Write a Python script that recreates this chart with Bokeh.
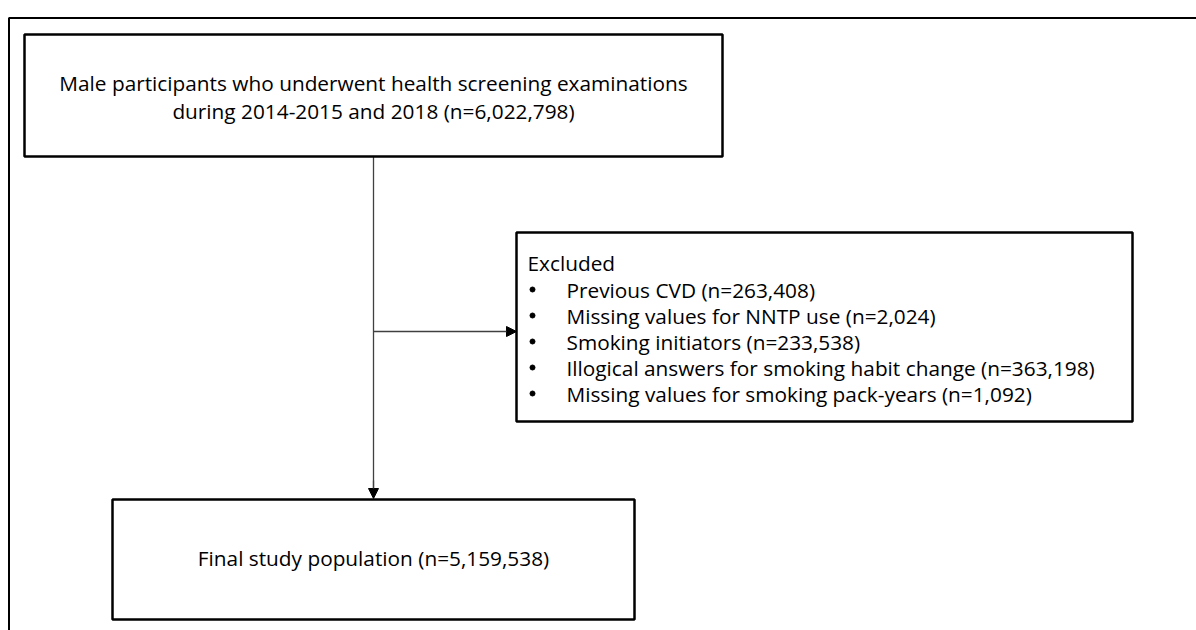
from bokeh.plotting import figure
from bokeh.models import Range1d, Arrow, NormalHead
from bokeh.core.properties import value
from bokeh.embed import file_html
from bokeh.resources import INLINE

# ---- data ----
total_n = "6,022,798"
top_lines = ["Male participants who underwent health screening examinations",
             "during 2014-2015 and 2018 (n=" + total_n + ")"]
excl_title = "Excluded"
excl_labels = ["Previous CVD", "Missing values for NNTP use", "Smoking initiators",
               "Illogical answers for smoking habit change", "Missing values for smoking pack-years"]
excl_counts = ["263,408", "2,024", "233,538", "363,198", "1,092"]
final_n = "5,159,538"
final_label = "Final study population (n=" + final_n + ")"

FONT = value("Open Sans")
FS = "20.8px"

W, H = 1196, 630
p = figure(width=W, height=H, output_backend="svg", toolbar_location=None,
           x_range=Range1d(0, W), y_range=Range1d(H, 0),
           min_border=0, outline_line_color=None)
p.axis.visible = False
p.grid.visible = False
p.background_fill_color = "white"

# outer frame (partially visible)
p.line(x=[8.5, 8.5, 1210], y=[650, 17.5, 17.5], line_color="black", line_width=2)

# connectors
cx = 373
p.segment(x0=[cx], y0=[156], x1=[cx], y1=[490], line_color="#404040", line_width=1.3)
p.add_layout(Arrow(end=NormalHead(size=10, fill_color="black", line_color="black"),
                   x_start=cx, y_start=480, x_end=cx, y_end=498,
                   line_color="#404040", line_width=1.3))
p.add_layout(Arrow(end=NormalHead(size=10, fill_color="black", line_color="black"),
                   x_start=cx, y_start=331, x_end=516, y_end=331,
                   line_color="#404040", line_width=1.3))

# boxes
p.quad(left=[24, 516, 112], right=[722, 1132, 634], top=[34, 232, 499], bottom=[156, 421, 619],
       fill_color="white", line_color="black", line_width=2.5)

# top box text
p.text(x=[cx, cx], y=[82, 110], text=top_lines, text_font=FONT, text_font_size=FS,
       text_align="center", text_baseline="middle", text_color="black")

# excluded box
p.text(x=[527], y=[262], text=[excl_title], text_font=FONT, text_font_size=FS,
       text_align="left", text_baseline="middle", text_color="black")
ys = [289 + 26 * i for i in range(len(excl_labels))]
p.scatter(x=[532] * len(ys), y=ys, size=5, marker="circle", fill_color="black", line_color="black")
p.text(x=[566] * len(ys), y=ys,
       text=[f"{l} (n={c})" for l, c in zip(excl_labels, excl_counts)],
       text_font=FONT, text_font_size=FS, text_align="left", text_baseline="middle",
       text_color="black")

# final box
p.text(x=[cx], y=[557], text=[final_label], text_font=FONT, text_font_size=FS,
       text_align="center", text_baseline="middle", text_color="black")

open("out.html", "w").write(file_html(p, INLINE))
